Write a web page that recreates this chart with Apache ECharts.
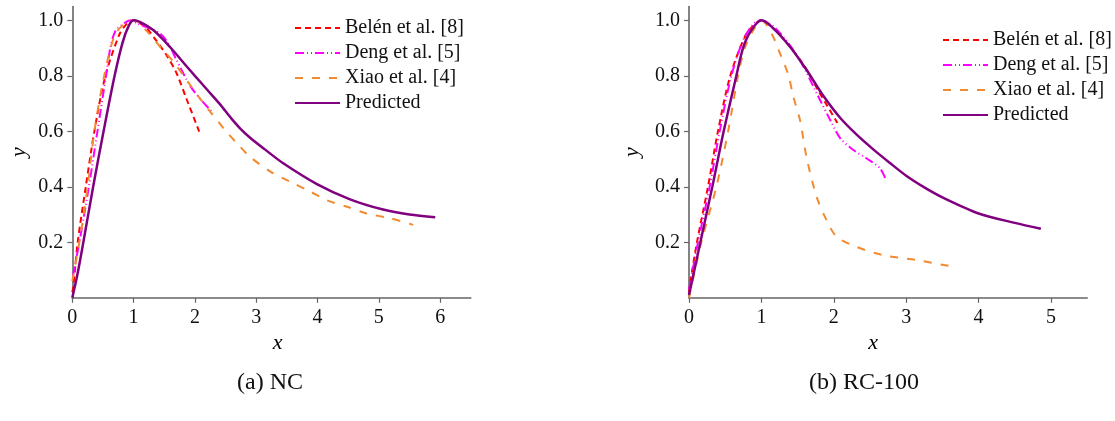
<!DOCTYPE html>
<html>
<head>
<meta charset="utf-8">
<script src="https://cdn.jsdelivr.net/npm/echarts@6/dist/echarts.min.js"></script>
<style>
html,body{margin:0;padding:0;background:#fff;}
#chart{width:1115px;height:421px;}
</style>
</head>
<body>
<div id="chart"></div>
<script>
// ---- data ----
var seriesNames = ['Belén et al. [8]', 'Deng et al. [5]', 'Xiao et al. [4]', 'Predicted'];
var panelTitles = ['(a) NC', '(b) RC-100'];
var xTicksA = [0, 1, 2, 3, 4, 5, 6];
var xTicksB = [0, 1, 2, 3, 4, 5];
var yTicks = [0.2, 0.4, 0.6, 0.8, 1.0];

// Panel (a) NC
var belenA = [[0,0.02],[0.017,0.04],[0.088,0.2],[0.22,0.4],[0.36,0.6],[0.54,0.8],[0.77,0.95],[0.9,0.99],[1.0,1.0],[1.21,0.971],[1.377,0.925],[1.55,0.87],[1.70,0.81],[1.87,0.713],[2.07,0.599]];
var dengA = [[0.01,0.08],[0.115,0.2],[0.27,0.4],[0.41,0.6],[0.55,0.8],[0.62,0.9],[0.70,0.96],[0.85,0.99],[0.95,1.0],[1.05,0.99],[1.43,0.953],[1.57,0.915],[1.70,0.857],[1.95,0.755],[2.30,0.665]];
var xiaoA = [[0,0.06],[0.115,0.2],[0.25,0.4],[0.36,0.6],[0.52,0.8],[0.7,0.95],[0.9,0.995],[1.0,1.0],[1.2,0.965],[1.45,0.9],[1.65,0.851],[1.865,0.785],[2.08,0.719],[2.27,0.665],[2.49,0.605],[2.71,0.551],[2.90,0.508],[3.23,0.455],[3.55,0.419],[3.88,0.383],[4.15,0.352],[4.48,0.328],[4.80,0.304],[5.18,0.287],[5.56,0.263]];
var predA = [[0,0],[0.08,0.08],[0.18,0.2],[0.34,0.4],[0.51,0.6],[0.69,0.8],[0.82,0.92],[0.92,0.98],[1.0,1.0],[1.1,0.995],[1.32,0.965],[1.59,0.905],[1.87,0.833],[2.0,0.80],[2.2,0.75],[2.4,0.70],[2.6,0.645],[2.74,0.61],[2.9,0.577],[3.14,0.535],[3.44,0.485],[3.99,0.41],[4.53,0.355],[5.07,0.318],[5.5,0.300],[5.92,0.29]];

// Panel (b) RC-100
var belenB = [[0,0.02],[0.02,0.06],[0.11,0.2],[0.262,0.4],[0.40,0.6],[0.57,0.8],[0.79,0.95],[0.95,0.995],[1.0,1.0],[1.21,0.96],[1.556,0.85],[1.79,0.745],[2.05,0.63]];
var dengB = [[0,0.03],[0.124,0.2],[0.285,0.4],[0.424,0.6],[0.585,0.8],[0.75,0.93],[0.9,0.99],[1.0,1.0],[1.2,0.97],[1.5,0.87],[1.81,0.713],[1.95,0.641],[2.09,0.575],[2.27,0.533],[2.45,0.503],[2.64,0.466],[2.72,0.425]];
var xiaoB = [[0,0],[0.17,0.2],[0.378,0.4],[0.54,0.6],[0.677,0.8],[0.77,0.9],[0.9,0.97],[1.0,1.0],[1.14,0.953],[1.257,0.881],[1.372,0.803],[1.441,0.725],[1.533,0.641],[1.625,0.505],[1.763,0.364],[1.90,0.28],[2.04,0.22],[2.31,0.184],[2.68,0.154],[3.14,0.136],[3.65,0.112]];
var predB = [[0,0.01],[0.157,0.2],[0.322,0.4],[0.479,0.6],[0.654,0.8],[0.746,0.9],[0.85,0.96],[1.0,1.0],[1.15,0.975],[1.395,0.905],[1.625,0.821],[1.855,0.728],[2.09,0.648],[2.316,0.588],[2.545,0.535],[2.775,0.486],[3.0,0.44],[3.25,0.398],[3.5,0.362],[4.0,0.304],[4.5,0.270],[4.86,0.249]];

// ---- styles ----
var FONT = '"Liberation Serif", "DejaVu Serif", serif';
var colors = ['#ff0000', '#ff00ff', '#f28a30', '#800080'];
var dashes = [[6,4], [9,3,1,3,1,3], [8,9], 'solid'];
var widths = [2, 2, 2, 2.5];

function xAxisFor(idx, max, ticks, namePad) {
  return {
    type: 'value', gridIndex: idx, min: 0, max: max,
    name: 'x', nameLocation: 'middle', nameGap: 31,
    nameTextStyle: { fontFamily: FONT, fontStyle: 'italic', fontSize: 22, color: '#000', padding: namePad },
    axisLine: { show: true, lineStyle: { color: '#666', width: 1.6 } },
    axisTick: { show: true, length: 5, customValues: ticks, lineStyle: { color: '#666', width: 1.2 } },
    axisLabel: { customValues: ticks, fontFamily: FONT, fontSize: 20, color: '#111', margin: 10 },
    splitLine: { show: false }
  };
}
function yAxisFor(idx, nameGap) {
  return {
    type: 'value', gridIndex: idx, min: 0, max: 1.05,
    name: 'y', nameLocation: 'middle', nameGap: nameGap,
    nameTextStyle: { fontFamily: FONT, fontStyle: 'italic', fontSize: 22, color: '#000' },
    axisLine: { show: true, lineStyle: { color: '#666', width: 1.6 } },
    axisTick: { show: true, length: 5, customValues: yTicks, lineStyle: { color: '#666', width: 1.2 } },
    axisLabel: { customValues: yTicks, fontFamily: FONT, fontSize: 20, color: '#111', margin: 9,
      formatter: function (v) { return v.toFixed(1); } },
    splitLine: { show: false }
  };
}

var panelData = [[belenA, dengA, xiaoA, predA], [belenB, dengB, xiaoB, predB]];
var series = [];
panelData.forEach(function (arrs, p) {
  arrs.forEach(function (d, i) {
    series.push({
      name: seriesNames[i], type: 'line', xAxisIndex: p, yAxisIndex: p,
      data: d, symbol: 'none', smooth: 0.3,
      lineStyle: { color: colors[i], width: widths[i], type: dashes[i] },
      itemStyle: { color: colors[i] },
      z: i === 3 ? 3 : 2, silent: true, animation: false
    });
  });
});

function legendAt(left, top) {
  return {
    left: left, top: top, orient: 'vertical', data: seriesNames, padding: 0,
    itemWidth: 45, itemHeight: 14, itemGap: 5, selectedMode: false,
    itemStyle: { opacity: 0 },
    textStyle: { fontFamily: FONT, fontSize: 20, color: '#111', lineHeight: 20 }
  };
}

var chart = echarts.init(document.getElementById('chart'), null, { renderer: 'canvas' });
chart.setOption({
  backgroundColor: '#fff',
  animation: false,
  title: [
    { text: panelTitles[0], left: 270, top: 371, textAlign: 'center', padding: 0,
      textStyle: { fontFamily: FONT, fontSize: 24, fontWeight: 'normal', color: '#111' } },
    { text: panelTitles[1], left: 864, top: 371, textAlign: 'center', padding: 0,
      textStyle: { fontFamily: FONT, fontSize: 24, fontWeight: 'normal', color: '#111' } }
  ],
  legend: [legendAt(294, 18), legendAt(942, 30)],
  grid: [
    { left: 72.3, top: 6.5, width: 398.5, height: 291.3, containLabel: false },
    { left: 689, top: 6.5, width: 398.2, height: 291.3, containLabel: false }
  ],
  xAxis: [xAxisFor(0, 6.5, xTicksA, [0, 0, 0, 12]), xAxisFor(1, 5.5, xTicksB, [0, 30, 0, 0])],
  yAxis: [yAxisFor(0, 42), yAxisFor(1, 46)],
  series: series
});
</script>
</body>
</html>
